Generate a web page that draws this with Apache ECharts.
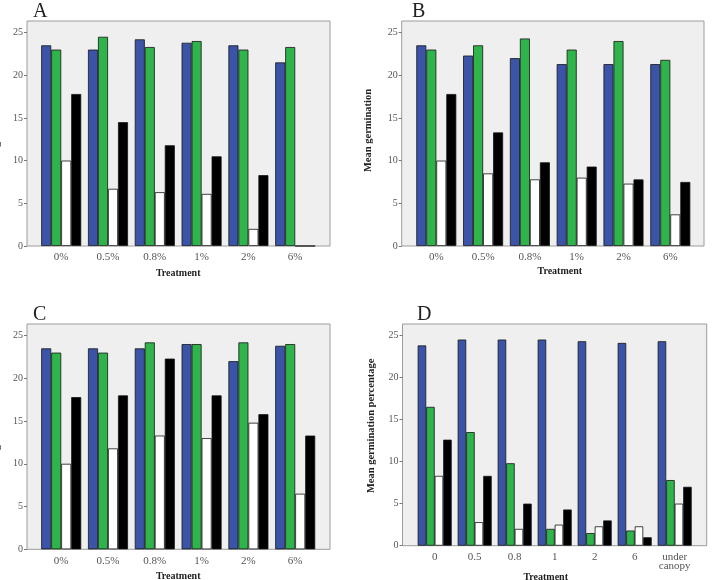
<!DOCTYPE html>
<html>
<head>
<meta charset="utf-8">
<script src="https://cdn.jsdelivr.net/npm/echarts@6/dist/echarts.min.js"></script>
<style>
    html, body { margin: 0; padding: 0; background: #fff; }
    #chart { width: 712px; height: 580px; }
</style>
</head>
<body>
<div id="chart"></div>
<script>
// categories
const treatPct = ['0%', '0.5%', '0.8%', '1%', '2%', '6%']
const treatNum = ['0', '0.5', '0.8', '1', '2', '6', 'under\ncanopy']
const yTicks = [0, 5, 10, 15, 20, 25]

// panel A
const blueA = [23.5, 23.0, 24.2, 23.8, 23.5, 21.5]
const greenA = [23.0, 24.5, 23.3, 24.0, 23.0, 23.3]
const whiteA = [10.0, 6.7, 6.3, 6.1, 2.0, 0]
const blackA = [17.8, 14.5, 11.8, 10.5, 8.3, 0]

// panel B
const blueB = [23.5, 22.3, 22.0, 21.3, 21.3, 21.3]
const greenB = [23.0, 23.5, 24.3, 23.0, 24.0, 21.8]
const whiteB = [10.0, 8.5, 7.8, 8.0, 7.3, 3.7]
const blackB = [17.8, 13.3, 9.8, 9.3, 7.8, 7.5]

// panel C
const blueC = [23.5, 23.5, 23.5, 24.0, 22.0, 23.8]
const greenC = [23.0, 23.0, 24.2, 24.0, 24.2, 24.0]
const whiteC = [10.0, 11.8, 13.3, 13.0, 14.8, 6.5]
const blackC = [17.8, 18.0, 22.3, 18.0, 15.8, 13.3]

// panel D
const blueD = [23.8, 24.5, 24.5, 24.5, 24.3, 24.1, 24.3]
const greenD = [16.5, 13.5, 9.8, 2.0, 1.5, 1.8, 7.8]
const whiteD = [8.3, 2.8, 2.0, 2.5, 2.3, 2.3, 5.0]
const blackD = [12.6, 8.3, 5.0, 4.3, 3.0, 1.0, 7.0]

const barColors = ['#3b54a7', '#2fb44b', '#ffffff', '#000000']
const serif = '"Liberation Serif", "Times New Roman", serif'
const yMax = 26.35

let grid = []
let xAxis = []
let yAxis = []
let series = []
let title = []

// one SPSS-style panel: grey box grid (y axis) + inner grid for the bars
function addPanel (p) {
    let bg = grid.length
    let fg = bg + 1
    grid.push({
        left: p.box[0], top: p.box[1], width: p.box[2], height: p.box[3],
        outerBoundsMode: 'none',
        show: true, backgroundColor: '#efefef', borderColor: '#9c9c9c', borderWidth: 1
    })
    grid.push({
        left: p.inner[0], top: p.box[1], width: p.inner[1], height: p.box[3],
        outerBoundsMode: 'none'
    })
    xAxis.push({ type: 'value', gridIndex: bg, show: false })
    xAxis.push({
        type: 'category', gridIndex: fg, data: p.cats,
        axisLine: { show: false }, axisTick: { show: false },
        axisLabel: { interval: 0, fontFamily: serif, fontSize: 11, color: '#555', margin: 7, lineHeight: 9 },
        name: 'Treatment', nameLocation: 'middle', nameGap: p.xGap,
        nameTextStyle: { fontFamily: serif, fontSize: 10, fontWeight: 'bold', color: '#222', padding: p.xPad || 0 }
    })
    yAxis.push({
        type: 'value', gridIndex: bg, min: 0, max: yMax,
        axisLine: { show: false },
        axisTick: { show: true, length: 3, customValues: yTicks, lineStyle: { color: '#777' } },
        axisLabel: { customValues: yTicks, fontFamily: serif, fontSize: 10, color: '#555', margin: 4 },
        splitLine: { show: false },
        name: p.yName, nameLocation: 'middle', nameGap: p.yGap,
        nameTextStyle: { fontFamily: serif, fontSize: 10.5, fontWeight: 'bold', color: '#222', padding: p.yPad || 0 }
    })
    yAxis.push({ type: 'value', gridIndex: fg, min: 0, max: yMax, show: false })
    p.values.forEach((vals, i) => {
        series.push({
            type: 'bar', xAxisIndex: fg, yAxisIndex: fg, data: vals,
            barWidth: p.barWidth, barGap: '0%',
            itemStyle: { color: barColors[i], borderColor: '#151515', borderWidth: 0.8 },
            silent: true
        })
    })
    title.push({
        text: p.letter, left: p.titlePos[0], top: p.titlePos[1], padding: 0,
        textStyle: { fontFamily: serif, fontSize: 20, fontWeight: 'normal', color: '#222' }
    })
}

addPanel({
    letter: 'A', titlePos: [33, 2], box: [27, 21, 303, 225], inner: [37.8, 280.8],
    cats: treatPct, values: [blueA, greenA, whiteA, blackA], barWidth: 10,
    yName: 'Mean germination', yGap: 25, xGap: 22
})
addPanel({
    letter: 'B', titlePos: [412, 2], box: [401.7, 21, 302.3, 225], inner: [412.9, 280.8],
    cats: treatPct, values: [blueB, greenB, whiteB, blackB], barWidth: 10,
    yName: 'Mean germination', yGap: 28, yPad: [0, 0, 0, 6], xGap: 20, xPad: [0, 0, 0, 13]
})
addPanel({
    letter: 'C', titlePos: [33, 305], box: [27, 324, 303, 225.3], inner: [37.8, 280.8],
    cats: treatPct, values: [blueC, greenC, whiteC, blackC], barWidth: 10,
    yName: 'Mean germination', yGap: 25, xGap: 22
})
addPanel({
    letter: 'D', titlePos: [417, 305], box: [402.5, 324, 304.2, 221.7], inner: [414.7, 280],
    cats: treatNum, values: [blueD, greenD, whiteD, blackD], barWidth: 8.5,
    yName: 'Mean germination percentage', yGap: 26, yPad: [0, 0, 0, 18], xGap: 24, xPad: [0, 18, 0, 0]
})

let myChart = echarts.init(document.getElementById('chart'), null, { renderer: 'canvas' })
myChart.setOption({
    animation: false,
    backgroundColor: '#ffffff',
    title: title,
    grid: grid,
    xAxis: xAxis,
    yAxis: yAxis,
    series: series
})
</script>
</body>
</html>
